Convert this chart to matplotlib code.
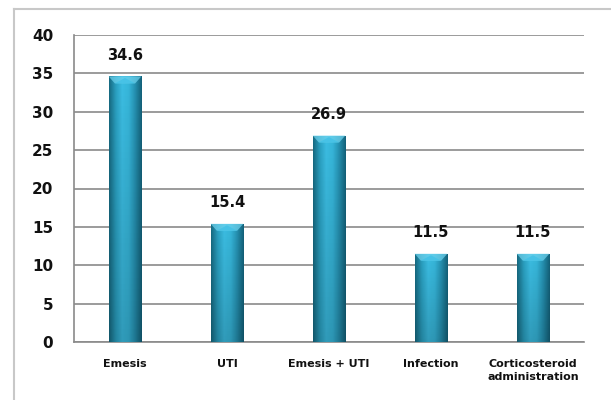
import numpy as np
import matplotlib.pyplot as plt
from matplotlib.colors import LinearSegmentedColormap
from matplotlib.patches import Rectangle, Polygon
from matplotlib.lines import Line2D

# Causes and their share (%)
causes = ['Emesis', 'UTI', 'Emesis + UTI', 'Infection', 'Corticosteroid\nadministration']
percent = [34.6, 15.4, 26.9, 11.5, 11.5]
y_ticks = [0, 5, 10, 15, 20, 25, 30, 35, 40]

fig = plt.figure(figsize=(6.11, 4.0), dpi=100)
ax = fig.add_axes([0.1211, 0.145, 0.8347, 0.7675])

# light frame round the chart (top and left only)
frame_col = '#c8c8c8'
fig.add_artist(Line2D([14 / 611, 1.0], [1 - 9 / 400, 1 - 9 / 400], color=frame_col, lw=1.5,
                      transform=fig.transFigure))
fig.add_artist(Line2D([14 / 611, 14 / 611], [0, 1 - 9 / 400], color=frame_col, lw=1.5,
                      transform=fig.transFigure))

bar_w = 0.32
cmap = LinearSegmentedColormap.from_list(
    'cyl', ['#176a82', '#2a9fc0', '#3cbde2', '#36b6da', '#2590b0', '#14627a'])

# horizontal gradient with a touch of vertical shading
gx = np.linspace(0, 1, 64)
grad = np.tile(gx, (64, 1))

x = np.arange(len(causes))
for xi, v in zip(x, percent):
    rect = Rectangle((xi - bar_w / 2, 0), bar_w, v, facecolor='none', edgecolor='none')
    ax.add_patch(rect)
    im = ax.imshow(grad, cmap=cmap, aspect='auto', origin='lower',
                   extent=(xi - bar_w / 2, xi + bar_w / 2, 0, v), zorder=3)
    im.set_clip_path(rect)
    shade = np.linspace(0.18, 0.0, 64)[:, None] * np.ones((1, 64))
    ov = ax.imshow(np.dstack([np.zeros((64, 64))] * 3 + [shade]), aspect='auto', origin='lower',
                   extent=(xi - bar_w / 2, xi + bar_w / 2, 0, v), zorder=3.1)
    ov.set_clip_path(rect)
    # bevel at the top of the bar
    h = 0.9
    ax.add_patch(Polygon([(xi - bar_w / 2, v), (xi + bar_w / 2, v),
                          (xi + bar_w / 2 - 0.06, v - h), (xi - bar_w / 2 + 0.06, v - h)],
                         closed=True, facecolor='#6fd3ee', edgecolor='none', alpha=0.7, zorder=3.2))
    ax.add_patch(Polygon([(xi - bar_w / 2 + 0.06, v - h), (xi + bar_w / 2 - 0.06, v - h),
                          (xi, v - 0.2)],
                         closed=True, facecolor='#45c2e6', edgecolor='none', alpha=0.9, zorder=3.3))
    ax.annotate(f'{v}', (xi, v), xytext=(0, 10), textcoords='offset points',
                ha='center', va='bottom', fontsize=10.5, fontweight='bold', color='#111111')

ax.set_xlim(-0.5, len(causes) - 0.5)
ax.set_ylim(0, 40)
ax.set_yticks(y_ticks)
ax.yaxis.grid(True, color='#8a8a8a', lw=1.2)
ax.set_axisbelow(True)
ax.set_xticks(x)
ax.set_xticklabels(causes, fontsize=8, fontweight='bold', color='#111111', linespacing=1.45)
ax.tick_params(axis='x', length=0, pad=12)
ax.tick_params(axis='y', length=0, pad=15)
for lab in ax.get_yticklabels():
    lab.set_fontsize(11)
    lab.set_fontweight('bold')
    lab.set_color('#111111')

for side in ['top', 'right']:
    ax.spines[side].set_visible(False)
ax.spines['left'].set_color('#8a8a8a')
ax.spines['bottom'].set_color('#8a8a8a')
ax.spines['left'].set_linewidth(1.2)
ax.spines['bottom'].set_linewidth(1.2)

fig.savefig('out.png', dpi=100)
